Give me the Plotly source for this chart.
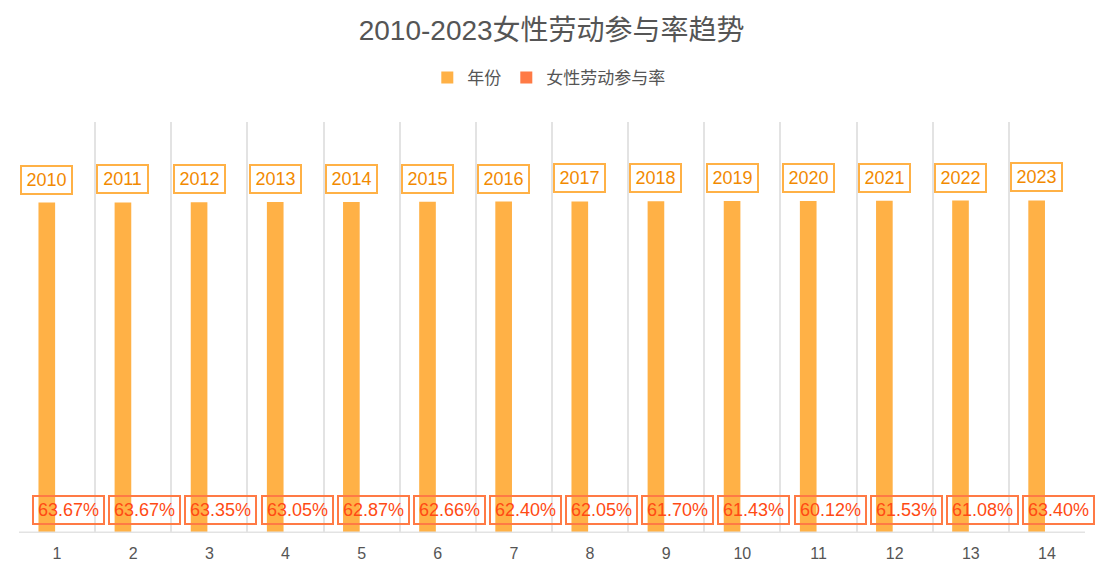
import plotly.graph_objects as go

categories = [str(i) for i in range(1, 15)]
years = [2010, 2011, 2012, 2013, 2014, 2015, 2016, 2017, 2018, 2019, 2020, 2021, 2022, 2023]
participation = [0.6367, 0.6367, 0.6335, 0.6305, 0.6287, 0.6266, 0.6240,
                 0.6205, 0.6170, 0.6143, 0.6012, 0.6153, 0.6108, 0.6340]

FONT = "Liberation Sans, Arial, Noto Sans CJK SC, sans-serif"
YEAR_COLOR = "#ffb146"
PCT_COLOR = "#ff7a45"
GRID = "#e3e3e3"

fig = go.Figure()
fig.add_trace(go.Bar(x=categories, y=years, name="年份",
                     marker=dict(color=YEAR_COLOR, line=dict(width=0))))
fig.add_trace(go.Bar(x=categories, y=participation, name="女性劳动参与率",
                     marker=dict(color=PCT_COLOR, line=dict(width=0))))

annotations = []
for idx, (yr, pct) in enumerate(zip(years, participation)):
    annotations.append(dict(
        x=idx, y=yr, xref="x", yref="y", text=str(yr), showarrow=False,
        xshift=-10.3, yshift=23, yanchor="middle", width=43,
        font=dict(family=FONT, size=18, color="#f28a00"),
        bordercolor=YEAR_COLOR, borderwidth=2, borderpad=3, bgcolor="white",
    ))
    annotations.append(dict(
        x=idx, y=pct, xref="x", yref="y", text=f"{pct * 100:.2f}%", showarrow=False,
        xshift=11.5, yshift=22.5, yanchor="middle", width=63,
        font=dict(family=FONT, size=18, color="#ff4a14"),
        bordercolor=PCT_COLOR, borderwidth=2, borderpad=3,
    ))

# the page body adds an 8px offset, so margins are compensated for it
fig.update_layout(
    width=1105, height=574,
    margin=dict(l=11, r=28, t=114, b=49),
    paper_bgcolor="white", plot_bgcolor="white",
    barmode="group", bargap=0.46, bargroupgap=0.19,
    title=dict(text="2010-2023女性劳动参与率趋势", x=0.492, xanchor="center",
               y=1 - 22 / 574, yanchor="middle", yref="container",
               font=dict(family=FONT, size=28, color="#555555")),
    legend=dict(orientation="h", x=0.497, xanchor="center", y=1.107, yanchor="middle",
                font=dict(family=FONT, size=17, color="#555555"),
                itemwidth=30, traceorder="normal"),
    annotations=annotations,
    # baseline drawn over the bars so the near-zero rate bars stay hidden
    shapes=[dict(type="line", xref="paper", x0=0, x1=1, yref="y", y0=0, y1=0,
                 line=dict(color=GRID, width=3), layer="above")],
    showlegend=True,
)
fig.update_xaxes(type="category", tickson="boundaries", range=[-0.5, 13.5],
                 showgrid=True, gridcolor=GRID, gridwidth=1.5, showline=False,
                 ticks="", ticklabelstandoff=9,
                 tickfont=dict(family=FONT, size=16, color="#555555"))
fig.update_yaxes(range=[0, 2500], showgrid=False, zeroline=False,
                 showticklabels=False, showline=False)

fig.write_html("out.html")
